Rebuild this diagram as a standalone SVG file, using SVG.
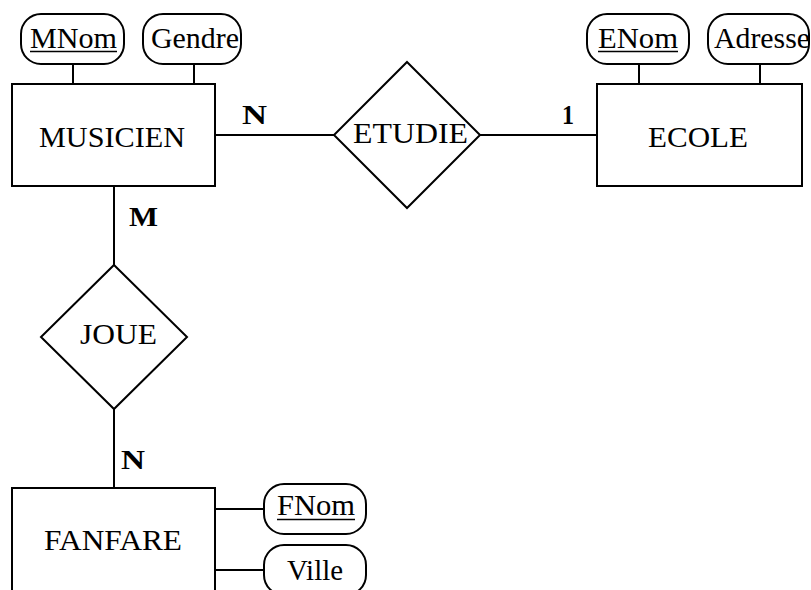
<svg xmlns="http://www.w3.org/2000/svg" width="811" height="590" viewBox="0 0 811 590">
<style>
.s{fill:#fff;stroke:#000;stroke-width:2}
.l{stroke:#000;stroke-width:2;fill:none}
.t{font-family:"Liberation Serif","DejaVu Serif",serif;font-size:30px;fill:#000}
.c{font-family:"Liberation Serif","DejaVu Serif",serif;font-size:27px;font-weight:bold;fill:#000}
</style>
<rect width="811" height="590" fill="#fff"/>
<g id="connectors">
<line class="l" x1="73" y1="64" x2="73" y2="84"/>
<line class="l" x1="194" y1="64" x2="194" y2="84"/>
<line class="l" x1="639" y1="64" x2="639" y2="84"/>
<line class="l" x1="760" y1="64" x2="760" y2="84"/>
<line class="l" x1="215" y1="135" x2="334" y2="135"/>
<line class="l" x1="480" y1="135" x2="597" y2="135"/>
<line class="l" x1="114" y1="186" x2="114" y2="265"/>
<line class="l" x1="114" y1="409" x2="114" y2="488"/>
<line class="l" x1="215" y1="509" x2="264" y2="509"/>
<line class="l" x1="215" y1="570" x2="264" y2="570"/>
<text class="c" x="242" y="124" textLength="25" lengthAdjust="spacingAndGlyphs">N</text>
<text class="c" x="562" y="124" textLength="12" lengthAdjust="spacingAndGlyphs">1</text>
<text class="c" x="129" y="226" textLength="29" lengthAdjust="spacingAndGlyphs">M</text>
<text class="c" x="121" y="469" textLength="24" lengthAdjust="spacingAndGlyphs">N</text>
</g>
<g id="musicien">
<rect class="s" x="12" y="84" width="203" height="102"/>
<text class="t" x="39" y="147" textLength="146" lengthAdjust="spacingAndGlyphs">MUSICIEN</text>
</g>
<g id="mnom">
<rect class="s" x="21" y="14" width="103" height="50" rx="20"/>
<text class="t" x="30" y="48" textLength="87" lengthAdjust="spacingAndGlyphs">MNom</text>
<line class="l" x1="30" y1="51.5" x2="117" y2="51.5" style="stroke-width:1.3"/>
</g>
<g id="gendre">
<rect class="s" x="143" y="14" width="98" height="50" rx="20"/>
<text class="t" x="151" y="48" textLength="88" lengthAdjust="spacingAndGlyphs">Gendre</text>
</g>
<g id="etudie">
<polygon class="s" points="407,62 480,135 407,208 334,135"/>
<text class="t" x="353" y="143" textLength="115" lengthAdjust="spacingAndGlyphs">ETUDIE</text>
</g>
<g id="ecole">
<rect class="s" x="597" y="84" width="205" height="102"/>
<text class="t" x="648" y="147" textLength="100" lengthAdjust="spacingAndGlyphs">ECOLE</text>
</g>
<g id="enom">
<rect class="s" x="587" y="14" width="102" height="50" rx="20"/>
<text class="t" x="598" y="48" textLength="80" lengthAdjust="spacingAndGlyphs">ENom</text>
<line class="l" x1="598" y1="51.5" x2="678" y2="51.5" style="stroke-width:1.3"/>
</g>
<g id="adresse">
<rect class="s" x="708" y="14" width="101" height="50" rx="20"/>
<text class="t" x="714" y="48" textLength="96" lengthAdjust="spacingAndGlyphs">Adresse</text>
</g>
<g id="joue">
<polygon class="s" points="114,265 187,337 114,409 41,337"/>
<text class="t" x="80" y="344" textLength="77" lengthAdjust="spacingAndGlyphs">JOUE</text>
</g>
<g id="fanfare">
<rect class="s" x="12" y="488" width="203" height="110"/>
<text class="t" x="44" y="550" textLength="138" lengthAdjust="spacingAndGlyphs">FANFARE</text>
</g>
<g id="fnom">
<rect class="s" x="264" y="484" width="102" height="50" rx="20"/>
<text class="t" x="277" y="515" textLength="78" lengthAdjust="spacingAndGlyphs">FNom</text>
<line class="l" x1="277" y1="519.5" x2="355" y2="519.5" style="stroke-width:1.3"/>
</g>
<g id="ville">
<rect class="s" x="264" y="545" width="102" height="50" rx="20"/>
<text class="t" x="287" y="580" textLength="56" lengthAdjust="spacingAndGlyphs">Ville</text>
</g>
</svg>
